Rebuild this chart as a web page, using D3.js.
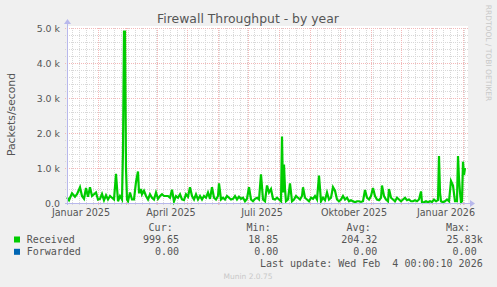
<!DOCTYPE html>
<html>
<head>
<meta charset="utf-8">
<script src="https://cdn.jsdelivr.net/npm/d3@7"></script>
<style>
  body { margin: 0; background: #f0f0f0; }
  svg { display: block; }
  text { font-family: "DejaVu Sans", sans-serif; fill: #555; }
  .mono { font-family: "DejaVu Sans Mono", monospace; font-size: 10px; white-space: pre; }
</style>
</head>
<body>
<svg id="chart" width="497" height="287"></svg>
<script>
// days since 1 Jan 2025 / packets per second
const dayOffsets = [0, 2, 5, 8, 10, 13, 15, 17, 19, 21, 23, 25, 27, 29, 31, 33, 35, 37, 39, 41, 43, 45, 47, 49, 51, 53, 55, 56, 57, 58, 59, 60, 61, 63, 65, 67, 69, 71, 72, 73, 74, 75, 77, 79, 81, 83, 85, 87, 89, 91, 93, 95, 97, 99, 101, 103, 105, 107, 109, 111, 113, 115, 117, 119, 121, 123, 125, 127, 129, 131, 133, 135, 137, 139, 141, 143, 145, 147, 149, 151, 152, 154, 156, 158, 160, 162, 164, 166, 168, 170, 172, 174, 176, 178, 180, 182, 184, 186, 188, 190, 192, 194, 196, 198, 200, 202, 204, 206, 208, 210, 212, 214, 215, 216, 217, 218, 219, 221, 223, 225, 227, 229, 231, 233, 235, 236, 238, 240, 242, 244, 246, 248, 250, 252, 254, 256, 258, 260, 262, 264, 266, 268, 270, 272, 274, 276, 278, 280, 282, 284, 286, 288, 290, 292, 294, 296, 298, 300, 302, 304, 306, 308, 310, 312, 314, 315, 317, 319, 321, 322, 324, 326, 328, 330, 332, 334, 336, 338, 340, 342, 344, 346, 348, 350, 352, 354, 355, 357, 359, 361, 363, 365, 367, 369, 371, 372, 373, 374, 376, 378, 380, 382, 384, 386, 388, 390, 391, 392, 393, 394, 395, 396, 397, 398];
const received = [160, 80, 280, 180, 250, 450, 200, 120, 430, 180, 450, 200, 250, 300, 100, 120, 260, 80, 220, 100, 200, 150, 100, 830, 50, 200, 100, 1500, 4900, 4900, 1000, 100, 50, 300, 100, 100, 600, 900, 300, 300, 400, 250, 350, 200, 100, 250, 150, 100, 300, 120, 200, 250, 200, 200, 200, 150, 380, 50, 200, 150, 250, 100, 80, 250, 180, 450, 200, 100, 250, 100, 200, 100, 200, 150, 300, 120, 450, 150, 100, 200, 560, 100, 150, 100, 200, 150, 100, 120, 200, 100, 180, 120, 150, 50, 120, 450, 100, 50, 120, 150, 100, 820, 100, 50, 500, 300, 400, 120, 100, 150, 100, 50, 1900, 300, 1100, 400, 50, 100, 560, 50, 100, 200, 150, 100, 200, 450, 150, 100, 50, 150, 120, 200, 100, 780, 50, 150, 80, 300, 100, 150, 450, 350, 100, 50, 100, 200, 100, 150, 50, 80, 50, 20, 50, 50, 30, 50, 370, 150, 100, 200, 430, 200, 100, 80, 150, 500, 200, 100, 50, 400, 150, 100, 50, 150, 100, 50, 100, 150, 80, 100, 50, 50, 80, 50, 100, 330, 20, 20, 50, 20, 50, 30, 100, 50, 80, 1340, 300, 50, 20, 50, 100, 50, 630, 500, 50, 50, 1340, 700, 300, 20, 50, 1180, 800, 1000];

const yTicks = [0, 1000, 2000, 3000, 4000, 5000];
const yTickLabels = ["0.0", "1.0 k", "2.0 k", "3.0 k", "4.0 k", "5.0 k"];
const xLabelDates = ["2025-01-01", "2025-04-01", "2025-07-01", "2025-10-01", "2026-01-01"];
const xLabels = ["Januar 2025", "April 2025", "Juli 2025", "Oktober 2025", "Januar 2026"];

const seriesNames = ["Received", "Forwarded"];
const seriesColors = ["#00cc00", "#0066b3"];
const statHeads = ["Cur:", "Min:", "Avg:", "Max:"];
const receivedStats = ["999.65", "18.85", "204.32", "25.83k"];
const forwardedStats = ["0.00", "0.00", "0.00", "0.00 "];

const W = 497, H = 287;
const L = 67, R = 467, T = 28, B = 203;
const svg = d3.select("#chart");

const start = new Date(Date.UTC(2025, 0, 1)), end = new Date(Date.UTC(2026, 1, 5));
const x = d3.scaleUtc().domain([start, end]).range([L, R]);
const y = d3.scaleLinear().domain([0, 5000]).range([B, T]);
const px = v => Math.round(v) + 0.5;

// plot background
svg.append("rect").attr("x", L).attr("y", T - 2).attr("width", R - L + 1).attr("height", B - T + 2).attr("fill", "#fff");

const grid = svg.append("g").attr("stroke-width", 1).attr("stroke-dasharray", "1,1").attr("fill", "none");
const minorCol = "#d8d8d8", majorCol = "#f3b8b8";

// minor grid
grid.selectAll(".hmin").data(d3.range(0, 5001, 200)).join("line")
  .attr("x1", L - 2).attr("x2", R + 1).attr("y1", d => px(y(d))).attr("y2", d => px(y(d)))
  .attr("stroke", minorCol);
grid.selectAll(".vmin").data(d3.utcMonday.range(start, end)).join("line")
  .attr("x1", d => px(x(d))).attr("x2", d => px(x(d))).attr("y1", T).attr("y2", B + 2)
  .attr("stroke", minorCol);
// major grid
grid.selectAll(".hmaj").data(yTicks).join("line")
  .attr("x1", L - 2).attr("x2", R + 1).attr("y1", d => px(y(d))).attr("y2", d => px(y(d)))
  .attr("stroke", majorCol);
grid.selectAll(".vmaj").data(d3.utcMonth.range(start, end)).join("line")
  .attr("x1", d => px(x(d))).attr("x2", d => px(x(d))).attr("y1", T).attr("y2", B + 3)
  .attr("stroke", majorCol);

// y labels
svg.selectAll(".ylab").data(yTicks).join("text")
  .attr("x", 60).attr("y", d => y(d) + 3.5)
  .attr("text-anchor", "end").attr("font-size", 9.4)
  .text((d, i) => yTickLabels[i]);

// x labels, centred half a month after the month start
svg.selectAll(".xlab").data(xLabelDates).join("text")
  .attr("x", d => x(d3.utcDay.offset(new Date(d + "T00:00:00Z"), 14)))
  .attr("y", 216.2).attr("text-anchor", "middle").attr("font-size", 9.6)
  .text((d, i) => xLabels[i]);

// data line
const line = d3.line()
  .x((d, i) => x(d3.utcDay.offset(start, dayOffsets[i])))
  .y(d => y(d));
svg.append("path").datum(received)
  .attr("d", line).attr("fill", "none")
  .attr("stroke", seriesColors[0]).attr("stroke-width", 2.2).attr("stroke-linejoin", "miter");

// axes with arrows
const axisCol = "#b8b8ec";
svg.append("line").attr("x1", L - 2).attr("x2", R + 4).attr("y1", px(B)).attr("y2", px(B)).attr("stroke", axisCol);
svg.append("line").attr("x1", px(L)).attr("x2", px(L)).attr("y1", B + 2).attr("y2", T - 5).attr("stroke", axisCol);
svg.append("path").attr("d", `M${R + 3},${B - 3} L${R + 8},${B + 0.5} L${R + 3},${B + 4} Z`).attr("fill", axisCol);
svg.append("path").attr("d", `M${L - 3},${T - 4} L${L + 0.5},${T - 9} L${L + 4},${T - 4} Z`).attr("fill", axisCol);

// title and side texts
svg.append("text").attr("x", 248).attr("y", 23).attr("text-anchor", "middle")
  .attr("font-size", 12.4).text("Firewall Throughput - by year");
svg.append("text").attr("transform", "translate(14.5,114.5) rotate(-90)")
  .attr("text-anchor", "middle").attr("font-size", 10.8).text("Packets/second");
svg.append("text").attr("transform", "translate(485.5,53) rotate(90)")
  .attr("text-anchor", "middle").attr("font-size", 7.5).style("fill", "#c8c8c8")
  .text("RRDTOOL / TOBI OETIKER");
svg.append("text").attr("x", 248).attr("y", 279).attr("text-anchor", "middle")
  .attr("font-size", 7.5).style("fill", "#c8c8c8").text("Munin 2.0.75");

// legend
const headEnds = [172.7, 270.7, 370.7, 470];
const valEnds = [179, 278.3, 377.3, 482.7];
const rowBase = [243, 255.3];
svg.selectAll(".head").data(statHeads).join("text").attr("class", "mono")
  .attr("x", (d, i) => headEnds[i]).attr("y", 231).attr("text-anchor", "end").text(d => d);
[receivedStats, forwardedStats].forEach((stats, r) => {
  svg.append("rect").attr("x", 14).attr("y", rowBase[r] - 6.5).attr("width", 6).attr("height", 6)
    .attr("fill", seriesColors[r]);
  svg.append("text").attr("class", "mono").attr("x", 26.7).attr("y", rowBase[r]).text(seriesNames[r]);
  svg.selectAll(".v" + r).data(stats).join("text").attr("class", "mono")
    .attr("x", (d, i) => valEnds[i]).attr("y", rowBase[r]).attr("text-anchor", "end").text(d => d);
});
svg.append("text").attr("class", "mono").attr("x", 482.7).attr("y", 267).attr("text-anchor", "end")
  .text("Last update: Wed Feb  4 00:00:10 2026");
</script>
</body>
</html>
